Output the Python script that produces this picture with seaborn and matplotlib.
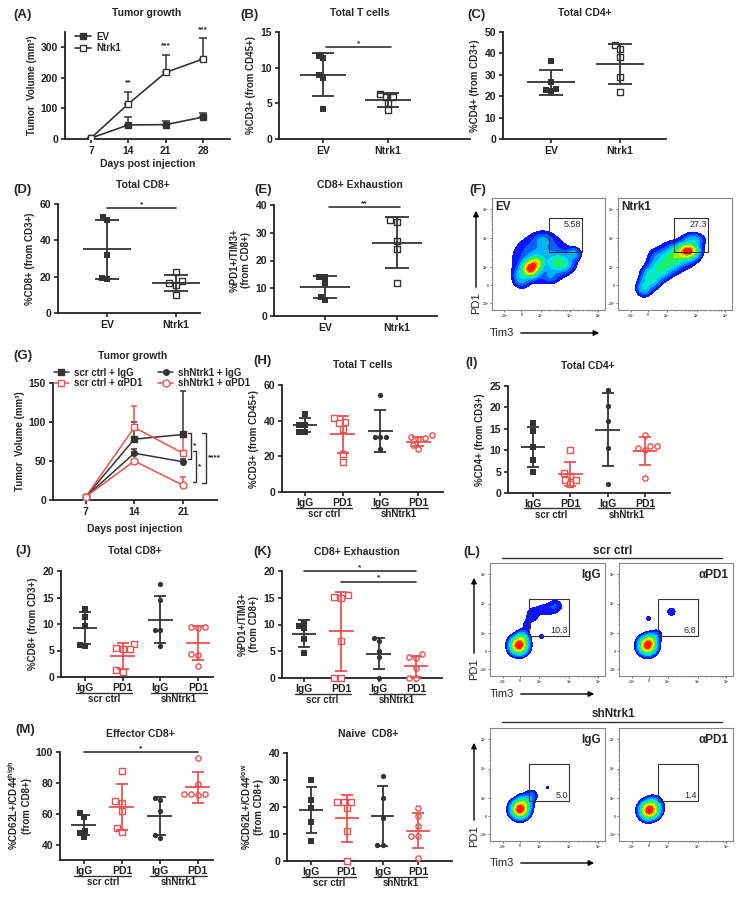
import numpy as np
import pandas as pd
import matplotlib
matplotlib.use('Agg')
import matplotlib.pyplot as plt
from matplotlib.patches import FancyArrowPatch, Rectangle
from matplotlib.lines import Line2D
import seaborn as sns

sns.set_style('ticks')
plt.rcParams['font.family'] = ['Liberation Sans', 'DejaVu Sans']
plt.rcParams['font.weight'] = 'bold'
plt.rcParams['axes.labelweight'] = 'bold'
plt.rcParams['mathtext.fontset'] = 'custom'
plt.rcParams['mathtext.rm'] = 'Liberation Sans:bold'
plt.rcParams['mathtext.bf'] = 'Liberation Sans:bold'
plt.rcParams['mathtext.it'] = 'Liberation Sans:bold'

W, H = 743, 899
BLK = '#333333'
RED = '#ef5050'

# ---------------- data ----------------
# (A) tumor growth
days_a = [7, 14, 21, 28]
ev_vol = [3, 46, 47, 72]
ev_err = [0, 26, 12, 13]
ntrk1_vol = [3, 115, 218, 262]
ntrk1_err = [0, 40, 58, 67]
stars_a = ['', '**', '***', '***']

# (B)-(E) EV vs Ntrk1
grp2 = ['EV', 'Ntrk1']
cd3_b = [[11.7, 11.3, 9.0, 8.6, 4.2], [6.3, 5.9, 5.95, 5.0, 4.0]]
cd3_b_mean = [9.0, 5.45]
cd3_b_sd = [3.0, 0.95]
cd4_c = [[36.5, 26.5, 23.5, 23.0, 22.3], [44.0, 42.0, 38.5, 29.0, 21.8]]
cd4_c_mean = [26.5, 35.2]
cd4_c_sd = [5.9, 9.3]
cd8_d = [[53, 51, 32, 19.5, 18.8], [22.8, 17.5, 16.5, 15.5, 10]]
cd8_d_mean = [35, 16.5]
cd8_d_sd = [16.4, 4.6]
exh_e = [[14, 14, 12, 7, 5.8], [34.5, 34, 27.2, 24.2, 12]]
exh_e_mean = [10.4, 26.4]
exh_e_sd = [4.0, 9.2]

# (G) tumor growth with treatment
days_g = [7, 14, 21]
g_series = ['scr ctrl + IgG', 'scr ctrl + αPD1', 'shNtrk1 + IgG', 'shNtrk1 + αPD1']
g_vol = [[4, 78, 84], [4, 93, 60], [4, 60, 49], [4, 50, 19]]
g_err = [[0, 22, 56], [0, 27, 27], [0, 6, 3], [0, 12, 11]]

# (H)-(M) four groups
grp4 = ['scr IgG', 'scr PD1', 'sh IgG', 'sh PD1']
tick4 = ['IgG', 'PD1', 'IgG', 'PD1']
cd3_h = [[43.5, 37.5, 37.5, 33.5, 33.5], [41.5, 39.5, 38.5, 35.5, 21.5, 17],
         [54.5, 30.6, 30.6, 30.6, 24.2], [31.7, 30.0, 30.2, 30.7, 26.5, 24.2]]
cd3_h_mean = [37.5, 32.4, 34.3, 28.3]
cd3_h_sd = [3.8, 10.4, 11.6, 2.5]
cd4_i = [[16.3, 14.5, 10.8, 7.7, 5.0], [10, 4.7, 4.0, 3.1, 3.1, 2.2],
         [24, 20.3, 16.8, 10.5, 2.2], [13.5, 11, 11, 10.5, 10, 3.6]]
cd4_i_mean = [10.7, 4.5, 14.8, 9.8]
cd4_i_sd = [4.65, 2.75, 8.6, 3.35]
cd8_j = [[12.8, 11.3, 9.6, 5.9, 6.0], [6.3, 5.2, 5.3, 5.4, 1.3, 1.0],
         [17.5, 14.6, 8.9, 8.9, 5.9], [9.5, 9.3, 9.4, 4.4, 4.2, 2.0]]
cd8_j_mean = [9.3, 4.0, 10.8, 6.4]
cd8_j_sd = [3.05, 2.4, 4.45, 3.2]
exh_k = [[10.3, 9.8, 9.3, 7.2, 4.6], [15.5, 15.0, 15.2, 7.0, 0, 0],
         [7.4, 7.0, 5.0, 4.0, 0], [4.5, 3.9, 3.8, 1.9, 0, 0]]
exh_k_mean = [8.3, 8.7, 4.5, 2.2]
exh_k_sd = [2.5, 7.4, 2.9, 2.0]
eff_m = [[60.5, 58, 49, 47.5, 45], [88, 68, 67, 62, 51, 48],
         [70.5, 69, 61.5, 46, 44], [96, 79, 73, 72.5, 72.5, 72]]
eff_m_mean = [52.5, 64.3, 58.5, 77]
eff_m_sd = [6.5, 14.7, 12.6, 10]
nai_m = [[30, 22.5, 19.5, 14.5, 7.5], [22, 22, 21.8, 19.5, 11, 0],
         [31.5, 23.5, 16, 6, 6], [19.6, 16.6, 13, 9.3, 9.3, 1]]
nai_m_mean = [19, 15.8, 16.6, 11.2]
nai_m_sd = [8.5, 8.8, 11, 6.5]

# flow plots: event populations (Tim3 centre, PD1 centre, spread x, spread y, weight)
ev_blobs = [(0.34, 0.37, 0.04, 0.04, 1.0), (0.39, 0.42, 0.035, 0.035, 0.5),
            (0.44, 0.46, 0.13, 0.11, 0.12), (0.60, 0.42, 0.06, 0.045, 0.3),
            (0.72, 0.50, 0.035, 0.03, 0.12), (0.45, 0.62, 0.05, 0.04, 0.08),
            (0.26, 0.30, 0.04, 0.05, 0.15), (0.52, 0.30, 0.04, 0.03, 0.06)]
nt_blobs = [(0.62, 0.53, 0.045, 0.035, 1.0), (0.55, 0.50, 0.06, 0.045, 0.45),
            (0.46, 0.44, 0.05, 0.05, 0.3), (0.37, 0.37, 0.05, 0.05, 0.28),
            (0.29, 0.29, 0.045, 0.05, 0.28), (0.23, 0.20, 0.035, 0.04, 0.18),
            (0.50, 0.48, 0.15, 0.11, 0.03), (0.66, 0.62, 0.05, 0.035, 0.15),
            (0.36, 0.47, 0.05, 0.04, 0.06)]
si_blobs = [(0.25, 0.27, 0.04, 0.04, 1.0), (0.28, 0.33, 0.03, 0.035, 0.25),
            (0.50, 0.59, 0.07, 0.035, 0.035), (0.37, 0.54, 0.035, 0.04, 0.035),
            (0.32, 0.44, 0.025, 0.04, 0.03), (0.45, 0.35, 0.015, 0.015, 0.03),
            (0.57, 0.63, 0.035, 0.03, 0.03)]
sp_blobs = [(0.25, 0.27, 0.04, 0.04, 1.0), (0.28, 0.32, 0.03, 0.03, 0.25),
            (0.46, 0.57, 0.025, 0.025, 0.035), (0.26, 0.51, 0.015, 0.015, 0.03),
            (0.33, 0.36, 0.03, 0.03, 0.05)]
hi_blobs = [(0.26, 0.28, 0.04, 0.04, 1.0), (0.30, 0.34, 0.035, 0.035, 0.25),
            (0.36, 0.40, 0.03, 0.03, 0.06), (0.50, 0.47, 0.01, 0.008, 0.03)]
hp_blobs = [(0.26, 0.27, 0.04, 0.04, 1.0), (0.30, 0.31, 0.04, 0.04, 0.3),
            (0.32, 0.26, 0.03, 0.03, 0.1)]

FLOW_LEVELS = [0.015, 0.04, 0.08, 0.15, 0.25, 0.38, 0.52, 0.66, 0.8, 1.01]
FLOW_COLORS = ['#0a14ff', '#0060ff', '#00b4ff', '#00e8d0', '#20f060', '#a0f000',
               '#f8f000', '#ff9000', '#ff2000']

fig = plt.figure(figsize=(W / 100, H / 100), dpi=100)


def px_axes(l, t, r, b):
    return fig.add_axes([l / W, 1 - b / H, (r - l) / W, (b - t) / H])


def ftext(x, y, s, **kw):
    kw.setdefault('ha', 'center')
    kw.setdefault('va', 'center')
    fig.text(x / W, 1 - y / H, s, **kw)


def fline(x0, x1, y):
    fig.add_artist(Line2D([x0 / W, x1 / W], [1 - y / H] * 2, transform=fig.transFigure,
                          color=BLK, lw=1))


def farrow(x0, y0, x1, y1):
    fig.add_artist(FancyArrowPatch((x0 / W, 1 - y0 / H), (x1 / W, 1 - y1 / H),
                                   transform=fig.transFigure, arrowstyle='-|>',
                                   mutation_scale=8, lw=1, color='black'))


def prism(ax, xpad=2):
    sns.despine(ax=ax)
    for s in ['left', 'bottom']:
        ax.spines[s].set_linewidth(1.3)
        ax.spines[s].set_color('#222222')
    ax.tick_params(length=3, width=1.2, labelsize=7.5, pad=2, colors='#222222')
    ax.tick_params(axis='x', pad=xpad)


def dot_panel(box, keys, ticks, groups, means, sds, colors, markers, filled,
              xlim, ylim, yticks, ylabel, half, cap, size=3.8, xpad=2):
    ax = px_axes(*box)
    for i, (k, vals) in enumerate(zip(keys, groups)):
        df = pd.DataFrame({'grp': [k] * len(vals), 'val': vals})
        if filled[i]:
            kw = dict(color=colors[i], linewidth=0)
        else:
            kw = dict(color='white', edgecolor=colors[i], linewidth=1.0)
        sns.swarmplot(data=df, x='grp', y='val', order=keys, marker=markers[i],
                      size=size, ax=ax, zorder=3, **kw)
        m, s = means[i], sds[i]
        ax.hlines(m, i - half, i + half, color=colors[i], lw=1.3, zorder=4)
        ax.vlines(i, m - s, m + s, color=colors[i], lw=1.3, zorder=4)
        ax.hlines([m - s, m + s], i - cap, i + cap, color=colors[i], lw=1.3, zorder=4)
    for c in ax.collections:
        c.set_clip_on(False)
    ax.set_xticks(range(len(keys)))
    ax.set_xticklabels(ticks)
    ax.set_xlim(*xlim)
    ax.set_ylim(*ylim)
    ax.set_yticks(yticks)
    ax.set_xlabel('')
    ax.set_ylabel(ylabel, fontsize=7, labelpad=3)
    prism(ax, xpad)
    return ax


def sig(ax, x0, x1, y, s):
    ax.plot([x0, x1], [y, y], color=BLK, lw=1.2, clip_on=False)
    ax.text((x0 + x1) / 2, y, s, ha='center', va='bottom', fontsize=6)


def group_labels(ax, h_px):
    tr = ax.get_xaxis_transform()
    for g0, name in [(0, 'scr ctrl'), (2, 'shNtrk1')]:
        ax.plot([g0 - 0.25, g0 + 1.25], [-15.5 / h_px] * 2, color=BLK, lw=1,
                transform=tr, clip_on=False)
        ax.text(g0 + 0.5, -22 / h_px, name, transform=tr, ha='center', va='center',
                fontsize=7)


def flow_panel(box, blobs, gate, pct, tag, tag_left, pct_top):
    ax = px_axes(*box)
    gx, gy = np.meshgrid(np.linspace(0, 1, 260), np.linspace(0, 1, 260))
    z = np.zeros_like(gx)
    for cx, cy, sx, sy, w in blobs:
        z += w * np.exp(-0.5 * (((gx - cx) / sx) ** 2 + ((gy - cy) / sy) ** 2))
    z /= z.max()
    ax.contourf(gx, gy, z, levels=FLOW_LEVELS, colors=FLOW_COLORS)
    x0, y0, x1, y1 = gate
    ax.add_patch(Rectangle((x0, y0), x1 - x0, y1 - y0, fill=False, ec='#333333', lw=0.8))
    if pct_top:
        ax.text(x1 - 0.01, y1 - 0.015, pct, ha='right', va='top', fontsize=6.5,
                fontweight='normal')
    else:
        ax.text(x1 - 0.01, y0 + 0.01, pct, ha='right', va='bottom', fontsize=6.5,
                fontweight='normal')
    if tag_left:
        ax.text(0.03, 0.97, tag, ha='left', va='top', fontsize=8.5, transform=ax.transAxes)
    else:
        ax.text(0.96, 0.95, tag, ha='right', va='top', fontsize=8.5, transform=ax.transAxes)
    ax.set_xlim(0, 1)
    ax.set_ylim(0, 1)
    labs = ['-10$^3$', '0', '10$^3$', '10$^4$', '10$^5$']
    xt = [0.11, 0.26, 0.43, 0.69, 0.94]
    yt = [0.06, 0.22, 0.38, 0.64, 0.90]
    ax.set_xticks(xt)
    ax.set_xticklabels(labs)
    ax.set_yticks(yt)
    ax.set_yticklabels(labs)
    minor_x = [a + (b - a) * np.log10(k) for a, b in [(0.43, 0.69), (0.69, 0.94)]
               for k in range(2, 10)]
    minor_y = [a + (b - a) * np.log10(k) for a, b in [(0.38, 0.64), (0.64, 0.90)]
               for k in range(2, 10)]
    ax.set_xticks(minor_x, minor=True)
    ax.set_yticks(minor_y, minor=True)
    ax.tick_params(which='major', length=1.5, width=0.5, labelsize=2.5, pad=0.5,
                   colors='#444444')
    ax.tick_params(which='minor', length=1, width=0.4, colors='#444444')
    for s in ax.spines.values():
        s.set_color('#888888')
        s.set_linewidth(0.8)
    return ax


# ---------------- (A) ----------------
ax = px_axes(65, 32, 230, 139)
for vol, err, lab, face in [(ev_vol, ev_err, 'EV', BLK), (ntrk1_vol, ntrk1_err, 'Ntrk1', 'white')]:
    ax.errorbar(days_a, vol, yerr=[np.zeros(len(err)), err], fmt='none', ecolor=BLK,
                elinewidth=1.1, capsize=3, capthick=1.1, zorder=2)
    sns.lineplot(x=days_a, y=vol, color=BLK, marker='s', markersize=5,
                 markerfacecolor=face, markeredgecolor=BLK, markeredgewidth=1,
                 lw=1.2, ax=ax, label=lab, errorbar=None, zorder=3)
for d, v, e, s in zip(days_a, ntrk1_vol, ntrk1_err, stars_a):
    ax.text(d, v + e + 30, s, ha='center', va='center', fontsize=6)
ax.legend(loc='upper left', bbox_to_anchor=(0.04, 1.04), frameon=False, fontsize=7,
          handlelength=1.6, handletextpad=0.5, borderaxespad=0, labelspacing=0.15)
ax.set_xlim(2.15, 33)
ax.set_ylim(0, 350)
ax.set_xticks(days_a)
ax.set_yticks([0, 100, 200, 300])
ax.set_xlabel('Days post injection', fontsize=7.5, labelpad=2)
ax.set_ylabel('Tumor  Volume (mm³)', fontsize=7, labelpad=3)
prism(ax)

# ---------------- (B)-(E) ----------------
c2 = [BLK, BLK]
m2 = ['s', 's']
f2 = [True, False]
ax = dot_panel((279, 32, 470, 139), grp2, grp2, cd3_b, cd3_b_mean, cd3_b_sd, c2, m2, f2,
               (-0.68, 2.26), (0, 15), [0, 5, 10, 15], '%CD3+ (from CD45+)', 0.35, 0.17)
sig(ax, 0.05, 1.05, 12.9, '*')
ax = dot_panel((503, 32, 666, 139), grp2, grp2, cd4_c, cd4_c_mean, cd4_c_sd, c2, m2, f2,
               (-0.70, 1.67), (0, 50), [0, 10, 20, 30, 40, 50], '%CD4+ (from CD3+)', 0.35, 0.17)
ax = dot_panel((58, 204, 200, 313), grp2, grp2, cd8_d, cd8_d_mean, cd8_d_sd, c2, m2, f2,
               (-0.71, 1.35), (0, 60), [0, 20, 40, 60], '%CD8+ (from CD3+)', 0.35, 0.17)
sig(ax, 0.0, 1.0, 57.8, '*')
ax = dot_panel((274, 205, 437, 316), grp2, grp2, exh_e, exh_e_mean, exh_e_sd, c2, m2, f2,
               (-0.71, 1.56), (0, 40), [0, 10, 20, 30, 40], '%PD1+/TIM3+\n(from CD8+)', 0.35, 0.17)
sig(ax, 0.05, 1.05, 39.3, '**')

# ---------------- (F) ----------------
flow_panel((492, 198, 605, 310), ev_blobs, (0.50, 0.52, 0.80, 0.82), '5.58', 'EV', True, True)
flow_panel((618, 198, 732, 310), nt_blobs, (0.49, 0.52, 0.79, 0.82), '27.3', 'Ntrk1', True, True)
ftext(476, 303, 'PD1', rotation=90, fontsize=8, fontweight='normal')
farrow(476, 290, 476, 208)
ftext(490, 333, 'Tim3', ha='left', fontsize=8, fontweight='normal')
farrow(518, 333, 602, 333)

# ---------------- (G) ----------------
ax = px_axes(53, 383, 217, 500)
g_style = [(BLK, 's', BLK, 4.5), (RED, 's', 'white', 5), (BLK, 'o', BLK, 4), (RED, 'o', 'white', 5)]
for name, vol, err, (c, m, f, ms) in zip(g_series, g_vol, g_err, g_style):
    ax.errorbar(days_g, vol, yerr=[np.zeros(len(err)), err], fmt='none', ecolor=c,
                elinewidth=1.1, capsize=2.5, capthick=1.1, zorder=2)
    sns.lineplot(x=days_g, y=vol, color=c, marker=m, markersize=ms, markerfacecolor=f,
                 markeredgecolor=c, markeredgewidth=1, lw=1.1, ax=ax, label=name,
                 errorbar=None, zorder=3)
ax.legend(ncol=2, loc='center', bbox_to_anchor=(152 / W, 1 - 378 / H),
          bbox_transform=fig.transFigure, frameon=False, fontsize=7, handlelength=1.6,
          handletextpad=0.5, columnspacing=1.6, labelspacing=0.1)
for x, ya, yb, s in [(22.2, 86, 53, '*'), (22.9, 63, 23, '*'), (24.3, 86, 22, '****')]:
    ax.plot([x - 0.5, x, x, x - 0.5], [ya, ya, yb, yb], color=BLK, lw=1, clip_on=False)
    ax.text(x + 0.3, (ya + yb) / 2, s, ha='left', va='center', fontsize=6)
ax.set_xlim(2.3, 25.9)
ax.set_ylim(0, 150)
ax.set_xticks(days_g)
ax.set_yticks([0, 50, 100, 150])
ax.set_xlabel('Days post injection', fontsize=7.5, labelpad=5)
ax.set_ylabel('Tumor  Volume (mm³)', fontsize=7, labelpad=3)
prism(ax)

# ---------------- (H)-(M) ----------------
c4 = [BLK, RED, BLK, RED]
m4 = ['s', 's', 'o', 'o']
f4 = [True, False, True, False]
ax = dot_panel((282, 385, 443, 492), grp4, tick4, cd3_h, cd3_h_mean, cd3_h_sd, c4, m4, f4,
               (-0.61, 3.66), (0, 60), [0, 20, 40, 60], '%CD3+ (from CD45+)', 0.33, 0.16, xpad=1)
group_labels(ax, 107)
ax = dot_panel((508, 386, 670, 493), grp4, tick4, cd4_i, cd4_i_mean, cd4_i_sd, c4, m4, f4,
               (-0.67, 3.67), (0, 25), [0, 5, 10, 15, 20, 25], '%CD4+ (from CD3+)', 0.33, 0.16, xpad=1)
group_labels(ax, 107)
ax = dot_panel((61, 571, 213, 677), grp4, tick4, cd8_j, cd8_j_mean, cd8_j_sd, c4, m4, f4,
               (-0.64, 3.4), (0, 20), [0, 5, 10, 15, 20], '%CD8+ (from CD3+)', 0.33, 0.16, xpad=1)
group_labels(ax, 106)
ax = dot_panel((282, 571, 442, 678), grp4, tick4, exh_k, exh_k_mean, exh_k_sd, c4, m4, f4,
               (-0.59, 3.7), (0, 20), [0, 5, 10, 15, 20], '%PD1+/TIM3+\n(from CD8+)', 0.33, 0.16, xpad=1)
group_labels(ax, 107)
sig(ax, 0, 3, 20, '*')
sig(ax, 1, 3, 18, '*')
ax = dot_panel((60, 752, 213, 860), grp4, tick4, eff_m, eff_m_mean, eff_m_sd, c4, m4, f4,
               (-0.63, 3.4), (30, 100), [40, 60, 80, 100],
               '%CD62L+/CD44$^{high}$\n(from CD8+)', 0.33, 0.16, xpad=1)
group_labels(ax, 108)
sig(ax, 0, 3, 100, '*')
ax = dot_panel((287, 753, 452, 861), grp4, tick4, nai_m, nai_m_mean, nai_m_sd, c4, m4, f4,
               (-0.68, 3.95), (0, 40), [0, 10, 20, 30, 40],
               '%CD62L+/CD44$^{low}$\n(from CD8+)', 0.33, 0.16, xpad=1)
group_labels(ax, 108)

# ---------------- (L) ----------------
gate_l = (0.34, 0.35, 0.69, 0.68)
flow_panel((490, 563, 605, 676), si_blobs, gate_l, '10.3', 'IgG', False, False)
flow_panel((619, 563, 733, 676), sp_blobs, gate_l, '6.8', 'αPD1', False, False)
flow_panel((490, 728, 605, 841), hi_blobs, gate_l, '5.0', 'IgG', False, False)
flow_panel((619, 728, 733, 841), hp_blobs, gate_l, '1.4', 'αPD1', False, False)
ftext(613, 551, 'scr ctrl', fontsize=8.5)
fline(502, 722, 558)
ftext(613, 714, 'shNtrk1', fontsize=8.5)
fline(502, 722, 722)
for y_lab, y_top, y_tim in [(669, 575, 694), (836, 740, 863)]:
    ftext(474, y_lab, 'PD1', rotation=90, fontsize=8, fontweight='normal')
    farrow(474, y_lab - 13, 474, y_top)
    ftext(490, y_tim, 'Tim3', ha='left', fontsize=8, fontweight='normal')
    farrow(518, y_tim, 597, y_tim)

# ---------------- titles and panel letters ----------------
for x, y, s in [(147, 13, 'Tumor growth'), (360, 13, 'Total T cells'), (585, 13, 'Total CD4+'),
                (143, 185, 'Total CD8+'), (360, 185, 'CD8+ Exhaustion'),
                (133, 356, 'Tumor growth'), (363, 365, 'Total T cells'), (588, 366, 'Total CD4+'),
                (135, 551, 'Total CD8+'), (357, 552, 'CD8+ Exhaustion'),
                (140, 734, 'Effector CD8+'), (368, 734, 'Naive  CD8+')]:
    ftext(x, y, s, fontsize=7.5)
for x, y, s in [(23, 15, '(A)'), (250, 15, '(B)'), (477, 15, '(C)'), (23, 190, '(D)'),
                (263, 190, '(E)'), (478, 190, '(F)'), (23, 356, '(G)'), (263, 361, '(H)'),
                (472, 363, '(I)'), (23, 551, '(J)'), (262, 552, '(K)'), (472, 552, '(L)'),
                (25, 730, '(M)')]:
    ftext(x, y, s, fontsize=9.5)

fig.savefig('out.png', dpi=100)
